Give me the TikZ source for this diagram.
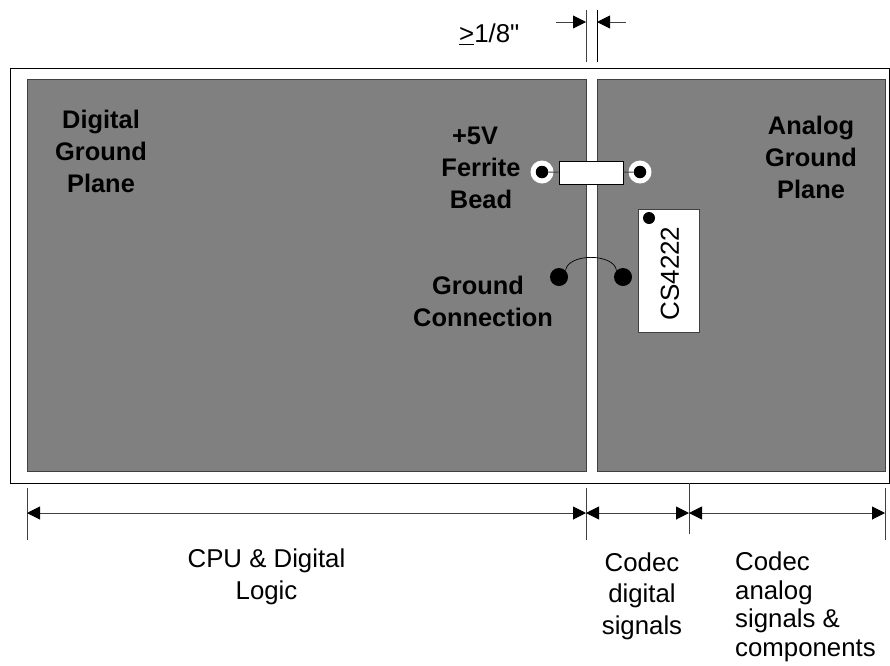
\documentclass[tikz,border=0pt]{standalone}
\usepackage{fontspec}
\setmainfont{Liberation Sans}
\newfontfamily\plainquote{Liberation Sans}
\usetikzlibrary{arrows.meta}
\definecolor{planegray}{HTML}{808080}
\definecolor{linegray}{HTML}{404040}
\tikzset{
	plane/.style={draw=linegray,fill=planegray,line width=0.9pt},
	dimline/.style={draw=linegray,line width=0.9pt,{Triangle[length=13pt,width=13pt,black]}-{Triangle[length=13pt,width=13pt,black]}},
	dimhead/.style={draw=linegray,line width=0.9pt,-{Triangle[length=13pt,width=13pt,black]}},
	tick/.style={draw=linegray,line width=0.9pt},
	biglabel/.style={font=\fontsize{25.4}{32}\selectfont\bfseries,align=center,inner sep=0pt},
	label/.style={font=\fontsize{25.8}{31.5}\selectfont,align=center,inner sep=0pt},
	dot/.style={circle,fill=black,inner sep=0pt,minimum size=#1},
	pad/.style={circle,fill=white,inner sep=0pt,minimum size=23pt},
}
\begin{document}
\begin{tikzpicture}[x=1pt,y=-1pt]
	\useasboundingbox (0,0) rectangle (890,665);
	% board and planes
	\draw[black,line width=0.9pt] (10,68) rectangle (889,483);
	\draw[plane] (27,79) rectangle (586,471);
	\draw[plane] (597,79) rectangle (885,471);
	% gap dimension
	\coordinate (gapleft) at (586,22);
	\coordinate (gapright) at (597,22);
	\coordinate (gapleftend) at (556,22);
	\coordinate (gaprightend) at (626,22);
	\draw[tick] (586,10)--(586,62);
	\draw[black,line width=0.9pt] (597,10)--(597,62);
	\draw[dimhead] (gapleftend)--(gapleft);
	\draw[dimhead] (gaprightend)--(gapright);
	\node[label,anchor=west] (gaplabel) at (459,34) {\underline{>}1/8{\plainquote"}};
	% ferrite bead
	\node[pad] (padleft) at (542,172) {};
	\node[pad] (padright) at (640,172) {};
	\node[dot=12.5pt] (holeleft) at (542,172) {};
	\node[dot=12.5pt] (holeright) at (640,172) {};
	\node[draw=black,fill=white,line width=0.9pt,minimum width=64pt,minimum height=23pt,inner sep=0pt] (bead) at (591,172.5) {};
	\draw[tick] (holeleft)--(bead);
	\draw[tick] (bead)--(holeright);
	% ground connection
	\node[dot=18pt] (gndleft) at (559,277) {};
	\node[dot=18pt] (gndright) at (623,277) {};
	\draw[black,line width=0.7pt] (gndleft.north east) .. controls (568,253) and (614,253) .. (gndright.north west);
	% codec chip
	\node[draw=linegray,fill=white,line width=0.9pt,minimum width=61pt,minimum height=123pt,inner sep=0pt] (chip) at (668.5,270.5) {};
	\node[dot=12pt] (pinone) at (649,218) {};
	\node[font=\fontsize{26}{30}\selectfont,rotate=90,inner sep=0pt] (chiplabel) at (670,273.5) {CS4222};
	% plane labels
	\node[biglabel] (digitalplane) at (101,151) {Digital\\Ground\\Plane};
	\node[biglabel] (analogplane) at (811,157) {Analog\\Ground\\Plane};
	\node[biglabel] (beadlabel) at (481,168) {+5V\hspace*{12pt}\\Ferrite\\Bead};
	\node[biglabel] (gndlabel) at (483,301) {Ground\hspace*{10pt}\\Connection};
	% dimensions below
	\coordinate (dima) at (27,513);
	\coordinate (dimb) at (586,513);
	\coordinate (dimc) at (689,513);
	\coordinate (dimd) at (885,513);
	\draw[tick] (27,488)--(27,540);
	\draw[tick] (586,488)--(586,540);
	\draw[tick] (689,483)--(689,534);
	\draw[tick] (885,488)--(885,540);
	\draw[dimline] (dima)--(dimb);
	\draw[dimline] (dimb)--(dimc);
	\draw[dimline] (dimc)--(dimd);
	\node[label] (cpulabel) at (266.5,577) {CPU \& Digital\\Logic};
	\node[label] (digitallabel) at (642,596) {Codec\\digital\\signals};
	\node[label,align=left,anchor=north west,font=\fontsize{25.8}{28.5}\selectfont] (analoglabel) at (735,552) {Codec\\analog\\signals \&\\components};
\end{tikzpicture}
\end{document}
